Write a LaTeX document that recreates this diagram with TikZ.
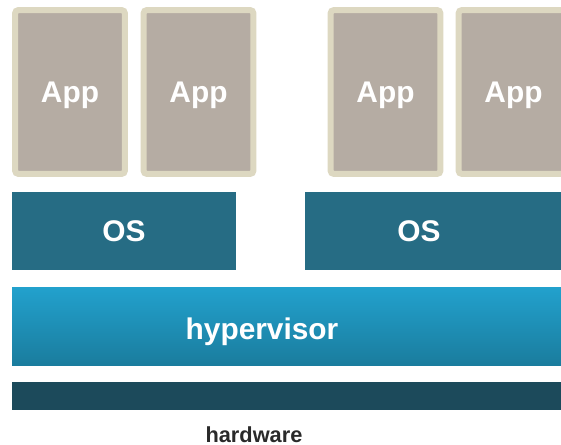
\documentclass[tikz,border=0pt]{standalone}
\usepackage{fontspec}
\setmainfont{Liberation Sans}
\usetikzlibrary{positioning}
\definecolor{appfill}{HTML}{B5ACA3}
\definecolor{appedge}{HTML}{DDD8C1}
\definecolor{osblue}{HTML}{266C84}
\definecolor{hvtop}{HTML}{22A1CD}
\definecolor{hvbot}{HTML}{1A7C9D}
\definecolor{hwdark}{HTML}{1C4A5B}
\definecolor{hwtext}{HTML}{2A2A2A}

\begin{document}
\begin{tikzpicture}[
    x=0.02cm, y=-0.02cm,
    every node/.style={font=\fontsize{17}{20}\selectfont\bfseries, text=white,
                       inner sep=0pt, outer sep=0pt},
    appbox/.style={draw=appedge, line width=0.12cm, fill=appfill, rounded corners=2pt,
                   minimum width=2.2cm, minimum height=3.28cm, text depth=0pt},
    osbox/.style={fill=osblue, minimum height=1.56cm},
    hvbox/.style={top color=hvtop, bottom color=hvbot, minimum width=11.26cm,
                  minimum height=1.58cm},
    hwbox/.style={fill=hwdark, minimum width=11.26cm, minimum height=0.56cm},
  ]
  \useasboundingbox (0,0) rectangle (561,445);
  \clip (0,0) rectangle (561,445);

  % guest applications
  \node[appbox] (app1) at (70,92)    {App};
  \node[appbox] (app2) at (198.5,92) {App};
  \node[appbox] (app3) at (385.5,92) {App};
  \node[appbox] (app4) at (513.5,92) {App};

  % guest operating systems
  \node[osbox, minimum width=4.48cm] (os1) at (124,231) {OS};
  \node[osbox, minimum width=5.4cm,
        label={[xshift=-0.42cm]center:OS}] (os2) at (440,231) {};

  % virtualisation layer
  \node[hvbox, label={[xshift=-0.63cm, yshift=-0.04cm, text depth=0pt]center:hypervisor}]
    (hv) at (293.5,326.5) {};
  \node[hwbox] (hw) at (293.5,396) {};
  \node[font=\fontsize{12.4}{14}\selectfont\bfseries, text=hwtext] (hwlabel) at (254,435) {hardware};
\end{tikzpicture}
\end{document}
